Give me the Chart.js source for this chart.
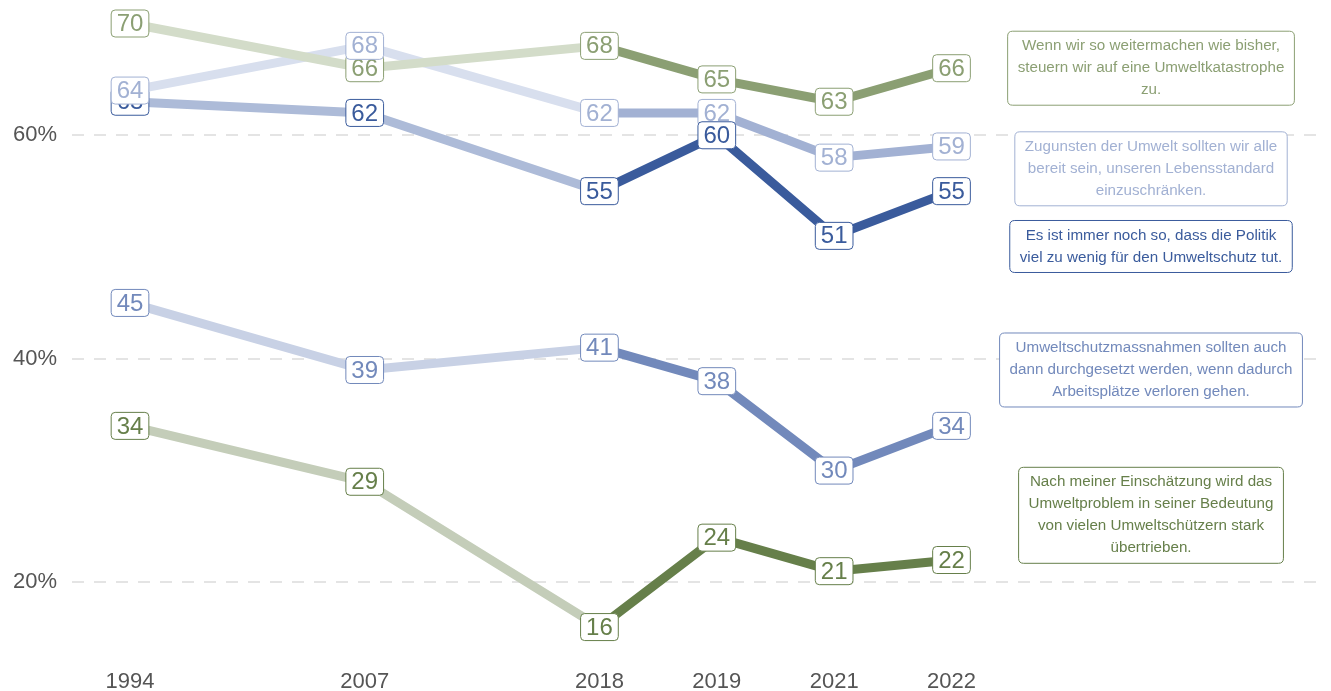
<!DOCTYPE html>
<html>
<head>
<meta charset="utf-8">
<script src="https://cdn.jsdelivr.net/npm/chart.js@4"></script>
<style>
  html, body { margin: 0; padding: 0; background: #fff; }
  #wrap { width: 1331px; height: 691px; }
</style>
</head>
<body>
<div id="wrap"><canvas id="lineChart"></canvas></div>
<script>
// axis slots: the survey years are spaced as categories, with empty slots in between
var axisSlots = ['1994', null, '2007', null, '2018', '2019', '2021', '2022'];
var years = ['1994', '2007', '2018', '2019', '2021', '2022'];
var yTicks = [20, 40, 60];

var katastrophe = [70, 66, 68, 65, 63, 66];
var lebensstandard = [64, 68, 62, 62, 58, 59];
var politik = [63, 62, 55, 60, 51, 55];
var arbeitsplaetze = [45, 39, 41, 38, 30, 34];
var uebertrieben = [34, 29, 16, 24, 21, 22];

var series = [
    { name: 'katastrophe', data: katastrophe, color: '#8b9f73', faded: '#d3dcc9',
      note: ['Wenn wir so weitermachen wie bisher,', 'steuern wir auf eine Umweltkatastrophe', 'zu.'] },
    { name: 'politik', data: politik, color: '#3a5b9c', faded: '#adbbd8',
      note: ['Es ist immer noch so, dass die Politik', 'viel zu wenig für den Umweltschutz tut.'] },
    { name: 'lebensstandard', data: lebensstandard, color: '#a2b1d3', faded: '#d8dfee',
      note: ['Zugunsten der Umwelt sollten wir alle', 'bereit sein, unseren Lebensstandard', 'einzuschränken.'] },
    { name: 'arbeitsplaetze', data: arbeitsplaetze, color: '#7289bb', faded: '#c8d1e5',
      note: ['Umweltschutzmassnahmen sollten auch', 'dann durchgesetzt werden, wenn dadurch', 'Arbeitsplätze verloren gehen.'] },
    { name: 'uebertrieben', data: uebertrieben, color: '#667f4a', faded: '#c4cdb9',
      note: ['Nach meiner Einschätzung wird das', 'Umweltproblem in seiner Bedeutung', 'von vielen Umweltschützern stark', 'übertrieben.'] }
];

// where the explanation boxes sit, in axis units
var noteX = 8.7;
var noteY = { katastrophe: 66, lebensstandard: 57, politik: 50.05, arbeitsplaetze: 39, uebertrieben: 26 };

var FONT = '"Liberation Sans", Arial, sans-serif';

function roundRect(ctx, x, y, w, h, r) {
    ctx.beginPath();
    ctx.moveTo(x + r, y);
    ctx.lineTo(x + w - r, y);
    ctx.quadraticCurveTo(x + w, y, x + w, y + r);
    ctx.lineTo(x + w, y + h - r);
    ctx.quadraticCurveTo(x + w, y + h, x + w - r, y + h);
    ctx.lineTo(x + r, y + h);
    ctx.quadraticCurveTo(x, y + h, x, y + h - r);
    ctx.lineTo(x, y + r);
    ctx.quadraticCurveTo(x, y, x + r, y);
    ctx.closePath();
}

function drawValue(ctx, ds, pt, v) {
    var txt = String(v);
    var w = ctx.measureText(txt).width + 11;
    var h = 27;
    roundRect(ctx, pt.x - w / 2, pt.y - h / 2, w, h, 4);
    ctx.fillStyle = '#fff';
    ctx.fill();
    ctx.lineWidth = 1;
    ctx.strokeStyle = ds.labelColor;
    ctx.stroke();
    ctx.fillStyle = ds.labelColor;
    ctx.fillText(txt, pt.x, pt.y + 1);
}

var labelPlugin = {
    id: 'valueLabels',
    afterDatasetsDraw: function (chart) {
        var ctx = chart.ctx;
        var xs = chart.scales.x, ys = chart.scales.y;
        var sets = chart.data.datasets;
        ctx.save();
        ctx.font = '24px ' + FONT;
        ctx.textAlign = 'center';
        ctx.textBaseline = 'middle';
        // older (faded) part first, then the recent part on top
        sets.forEach(function (ds, di) {
            chart.getDatasetMeta(di).data.forEach(function (pt, i) {
                if (i < 2) drawValue(ctx, ds, pt, ds.data[i].y);
            });
        });
        for (var di = sets.length - 1; di >= 0; di--) {
            var ds = sets[di];
            chart.getDatasetMeta(di).data.forEach(function (pt, i) {
                if (i >= 2) drawValue(ctx, ds, pt, ds.data[i].y);
            });
        }
        // explanation boxes
        ctx.font = '15.2px ' + FONT;
        series.forEach(function (s) {
            var cx = xs.getPixelForValue(noteX);
            var cy = ys.getPixelForValue(noteY[s.name]);
            var lh = 22;
            var maxW = 0;
            s.note.forEach(function (l) { maxW = Math.max(maxW, ctx.measureText(l).width); });
            var w = maxW + 20;
            var h = s.note.length * lh + 8;
            roundRect(ctx, cx - w / 2, cy - h / 2, w, h, 5);
            ctx.fillStyle = '#fff';
            ctx.fill();
            ctx.lineWidth = 1;
            ctx.strokeStyle = s.color;
            ctx.stroke();
            ctx.fillStyle = s.color;
            s.note.forEach(function (l, k) {
                ctx.fillText(l, cx, cy - h / 2 + 4 + lh / 2 + k * lh);
            });
        });
        ctx.restore();
    }
};

var lineCtx = document.getElementById('lineChart').getContext('2d');
var lineChart = new Chart(lineCtx, {
    type: 'line',
    data: {
        datasets: series.map(function (s) {
            return {
                label: s.name,
                data: s.data.map(function (v, i) { return { x: axisSlots.indexOf(years[i]), y: v }; }),
                borderColor: s.color,
                labelColor: s.color,
                borderWidth: 9,
                borderJoinStyle: 'round',
                pointRadius: 0,
                tension: 0,
                fill: false,
                clip: false,
                segment: {
                    borderColor: function (c) { return c.p0DataIndex < 2 ? s.faded : s.color; }
                }
            };
        })
    },
    options: {
        responsive: true,
        maintainAspectRatio: false,
        animation: false,
        layout: { padding: { left: -2, right: 7, top: 0, bottom: -12 } },
        plugins: { legend: { display: false }, tooltip: { enabled: false } },
        scales: {
            x: {
                type: 'linear',
                min: -0.494,
                max: 10.174,
                grid: { display: false, drawTicks: false },
                border: { display: false },
                afterBuildTicks: function (scale) {
                    scale.ticks = years.map(function (y) { return { value: axisSlots.indexOf(y) }; });
                },
                ticks: {
                    padding: 8,
                    color: '#555',
                    font: { size: 22, family: FONT },
                    maxRotation: 0,
                    callback: function (v) { return axisSlots[v]; }
                }
            },
            y: {
                min: 13.0,
                max: 69.58,
                grid: { color: '#e4e4e4', lineWidth: 2, drawTicks: false },
                border: { display: false, dash: [12, 10] },
                afterBuildTicks: function (scale) {
                    scale.ticks = yTicks.map(function (v) { return { value: v }; });
                },
                ticks: {
                    padding: 15,
                    color: '#555',
                    font: { size: 22, family: FONT },
                    callback: function (v) { return v + '%'; }
                }
            }
        }
    },
    plugins: [labelPlugin]
});
</script>
</body>
</html>
